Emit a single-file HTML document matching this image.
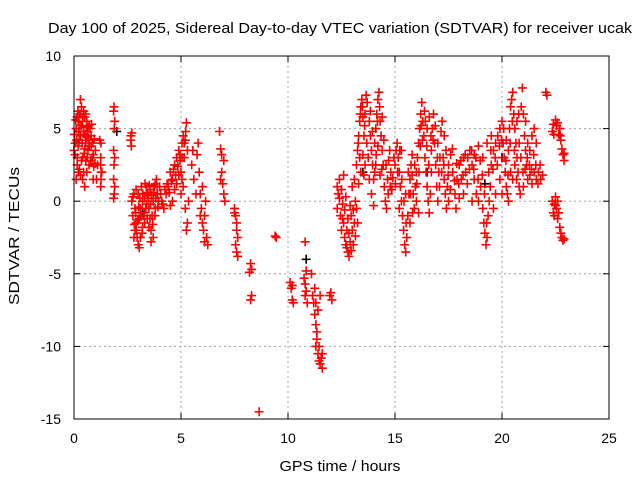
<!DOCTYPE html>
<html><head><meta charset="utf-8"><style>
html,body{margin:0;padding:0;background:#fff}
svg{display:block;font-family:"Liberation Sans",sans-serif}
</style></head><body>
<svg id="chart" width="640" height="480" viewBox="0 0 640 480">
<text x="340" y="33" font-size="15" text-anchor="middle" textLength="584" lengthAdjust="spacingAndGlyphs">Day 100 of 2025, Sidereal Day-to-day VTEC variation (SDTVAR) for receiver ucak</text>
<text transform="translate(19,236) rotate(-90)" font-size="15" text-anchor="middle" textLength="138" lengthAdjust="spacingAndGlyphs">SDTVAR / TECUs</text>
<text x="340" y="471" font-size="15" text-anchor="middle" textLength="121" lengthAdjust="spacingAndGlyphs">GPS time / hours</text>
<g id="grid"></g>
<g id="ticks"></g>
<g id="marks"></g>
<rect x="74" y="56" width="535" height="363" fill="none" stroke="#000" stroke-width="1"/>
</svg>
<script>
const xTicks=[0,5,10,15,20,25];
const yTicks=[10,5,0,-5,-10,-15];
const observations=[
[0,3.5],[0.05,4],[0.1,5],[0.15,3],[0.2,2],[0.2,5.5],[0.25,6],[0.3,4.5],[0.3,7],[0.35,6.5],[0.4,5.5],[0.4,3],[0.45,2],[0.5,1],[0.5,5.8],[0.55,4],[0.6,5.5],[0.65,3.5],[0.7,2.5],[0.75,5],[0.8,4.5],[0.85,3],[0.9,1.5],[0.95,4.3],[1.0,3.5],[1.05,1.5],[1.1,2.5],[1.2,4.2],[1.25,3],[1.3,2],[0.1,1.5],[0.15,2.5],[0.05,3.2],[0.2,3.8],[0.3,1.8],[0.35,2.8],[0.45,4.8],[0.55,6],[0.6,2],[0.65,4.8],[0.7,5.2],[0.8,3.8],[0.9,3.2],[0.25,4.2],[0.4,1.5],[0.45,6.2],[0.35,5.2],[0.5,3.6],[0.6,4.4],[0.15,5.8],[0.25,2.2],[0.55,2.8],
[0.02,4.6],[0.08,5.6],[0.12,4.2],[0.18,6.2],[0.22,4.8],[0.28,5.2],[0.32,6],[0.38,4],[0.42,5.8],[0.48,3.3],[0.52,4.6],[0.58,5.1],[0.62,3],[0.68,4.2],[0.72,3.8],[0.78,2.8],[0.82,5.3],[0.88,4],[0.92,2.4],[0.98,2.6],
[1.26,4],[1.25,2.5],[1.27,2],[1.26,1.5],[1.25,1],
[1.87,6.5],[1.85,6.2],[1.9,5.5],[1.88,5],[1.85,3.5],[1.9,3],[1.87,2.5],[1.85,1.5],[1.9,1],[1.88,0.5],[1.85,0.2],
[2.66,4.5],[2.7,4.7],[2.65,4.2],[2.68,3.8],
[2.7,0],[2.75,-1],[2.8,0.5],[2.85,-2],[2.9,-1.5],[2.95,-2.5],[3.0,-3],[3.05,-3.2],[3.1,-2.5],[3.0,0.5],[3.1,-0.5],[3.2,0],[3.25,-1],[3.3,-1.5],[3.35,-0.5],[3.4,1],[3.45,0.5],[3.5,-0.5],[3.55,-1.2],[3.6,-2],[3.65,-1],[3.7,0],[3.75,1],[3.8,1.2],[3.85,1.5],[3.9,0.5],[3.95,0],[2.8,-2.5],[2.9,0.8],[3.15,1],[3.3,0.2],[3.5,-1.8],[3.7,-2.5],[3.6,-2.8],[2.85,-0.5],[3.05,-1.2],[3.2,-1.8],[3.4,-0.2],[3.55,0.8],[3.8,-0.5],
[2.75,0.3],[2.82,-1.6],[2.88,-0.8],[2.92,-2],[2.98,-1.3],[3.02,-0.4],[3.08,0.2],[3.12,-1],[3.18,-2.2],[3.22,0.5],[3.28,-0.8],[3.32,1.2],[3.38,0.6],[3.42,-1.2],[3.48,0.2],[3.52,1.1],[3.58,-0.2],[3.62,0.4],[3.68,-1.6],[3.72,0.6],[3.78,-1],[3.82,0.2],[3.88,1],[3.92,-0.4],
[4.0,1],[4.1,0],[4.2,-0.5],[4.3,0.5],[4.4,1],[4.5,2],[4.6,1.5],[4.7,2.5],[4.8,3],[4.9,3.5],[5.0,2],[5.05,4],[5.1,4.5],[5.2,4.2],[5.25,5.4],[4.6,0],[4.7,0.8],[4.9,1.8],[5.0,0.5],[5.1,1],[5.2,-0.5],[5.3,-1.5],[5.25,-2],[5.35,0],[4.5,-0.3],[4.8,1.2],[5.15,3],[5.3,3.5],[4.95,2.8],[5.05,1.5],
[4.05,0.5],[4.15,-0.2],[4.25,0.8],[4.35,1.2],[4.45,0.6],[4.55,1.4],[4.65,2.2],[4.75,1.8],[4.85,2.4],[4.95,3.2],[5.05,3],[5.15,4],[5.22,4.8],
[5.5,2.5],[5.55,3.5],[5.6,1.5],[5.7,0.5],[5.75,3.2],[5.8,4],[5.85,2],[5.9,0.5],[5.95,-0.5],[6.0,-1.5],[6.05,-2],[6.1,-1],[6.15,0],[6.2,-2.5],[6.25,-3],[6.0,1],[5.9,-1],[6.1,-2.8],
[6.8,4.8],[6.85,3.6],[6.9,3.2],[6.9,2],[6.95,1.2],[7.0,2.8],[7.0,0.5],[7.05,0],[6.85,1.5],
[7.5,-0.5],[7.55,-1],[7.6,-1.5],[7.6,-2],[7.65,-2.5],[7.55,-3],[7.6,-3.5],[7.65,-3.8],[7.5,-0.8],
[8.25,-4.3],[8.3,-4.7],[8.2,-4.9],[8.3,-6.5],[8.25,-6.8],[8.65,-14.5],[9.4,-2.4],[9.45,-2.5],
[10.1,-5.6],[10.15,-6.0],[10.2,-6.8],[10.2,-5.8],[10.25,-7.0],
[10.8,-2.8],[10.85,-4.8],[10.75,-5.3],[10.8,-5.7],[10.85,-6.2],[10.9,-7],[10.8,-6.5],
[11.1,-5],[11.15,-6.5],[11.2,-7],[11.25,-7.8],[11.3,-8.5],[11.35,-9],[11.3,-10],[11.4,-10.5],[11.45,-11],[11.5,-11.2],[11.55,-10.8],[11.6,-11.5],[11.5,-6.5],[11.4,-7.5],[11.35,-9.5],[11.45,-10],[11.6,-10.5],[11.3,-7],[11.25,-6],
[12.0,-6.3],[12.05,-6.8],[11.95,-6.5],
[12.3,1],[12.35,0.5],[12.3,-0.5],[12.4,1.5],[12.45,-1],[12.5,-2],[12.55,-0.2],[12.6,-1.5],[12.65,-2.5],[12.7,-3],[12.75,-2],[12.8,-3.5],[12.85,-3.8],[12.9,-2.8],[12.95,-1],[13.0,-2],[13.05,-3],[13.1,-1.5],[13.15,0],[12.7,0.3],[12.6,1.8],[12.5,0.8],[12.8,-1.2],[12.9,-0.3],[13.0,1],[13.1,1.5],[13.2,-0.5],[13.2,2.5],[13.25,3.5],[13.3,4.5],[13.35,5.5],[13.4,6.5],[13.45,7],[13.5,5.8],[13.55,4.5],[13.6,6],[13.65,7.3],[13.7,6.8],[13.35,3],[13.4,2],[13.3,1.2],[13.5,3.2],[13.6,2.5],[13.55,1.8],
[12.4,0.2],[12.55,-1.2],[12.65,-0.6],[12.75,-3.2],[12.85,-2.2],[12.95,-3.4],[13.05,-0.6],[13.15,-2.4],[13.25,-1.5],[13.28,4],[13.38,6],[13.48,6.5],[13.58,5.2],[13.68,4],[13.75,3],[13.8,1.5],
[13.8,5.5],[13.85,4.5],[13.9,3.5],[13.95,2.5],[14.0,1.5],[14.05,4],[14.1,5],[14.15,6],[14.2,7],[14.25,7.5],[14.3,5.5],[14.35,4.5],[14.4,3.5],[14.45,2.5],[14.5,1],[14.55,0],[14.6,-0.5],[14.65,1.5],[14.7,2.8],[14.75,3.5],[14.8,2],[14.85,0.8],[14.1,2.5],[14.2,3.8],[14.3,1.8],[14.4,5.8],[14.0,-0.3],[13.9,0.5],
[13.85,6.2],[13.95,4.8],[14.05,2],[14.12,3.2],[14.18,5.5],[14.28,6.5],[14.38,2.2],[14.48,4.2],[14.58,2.5],[14.68,0.5],[14.78,1],[14.9,1.6],[14.95,3],
[15.0,2.5],[15.05,3.5],[15.1,4],[15.15,3],[15.2,2],[15.25,1],[15.3,0],[15.35,-1],[15.4,-2],[15.45,-3],[15.5,-3.5],[15.55,-2.5],[15.6,-1],[15.65,0.5],[15.7,1.5],[15.75,2.5],[15.8,1.8],[15.85,0.5],[15.9,-0.5],[15.95,1],[16.0,2],[16.05,3],[16.1,4],[16.15,5],[16.2,6],[16.25,6.8],[16.3,5.5],[15.2,-0.5],[15.3,3.5],[15.5,0.5],[15.7,-1.5],[15.8,3.2],[16.0,0],[16.1,-0.8],
[15.02,1.2],[15.12,2],[15.22,3.5],[15.32,1.5],[15.42,0],[15.52,-1.5],[15.62,2],[15.72,0.5],[15.82,-0.8],[15.92,2.5],[16.02,1.2],[16.12,2],[16.18,3.8],[16.22,5.2],[16.28,4.2],
[16.35,4.5],[16.4,3],[16.45,2],[16.5,1],[16.55,0],[16.6,-0.8],[16.65,0.5],[16.7,2],[16.75,5],[16.8,6],[16.85,4],[16.9,2.5],[16.95,1],[17.0,0],[17.05,2],[17.1,3],[17.15,4.8],[17.2,5.5],[17.25,3],[17.3,1.5],[17.35,0.5],[17.4,-0.5],[17.45,1],[17.5,2.5],[17.6,3.2],[17.7,2],[17.8,0.5],[17.85,-0.5],[17.9,1.5],[18.0,2.5],[18.1,1.5],[18.2,0.5],[18.3,2],[18.4,3],[18.5,3.5],[16.5,5],[16.6,5.8],[16.7,3.5],[17.0,4],[17.3,4.5],[17.5,0],[18.0,0.2],[18.2,3],
[16.38,6.2],[16.42,5.5],[16.48,3.8],[16.58,2.5],[16.68,4.5],[16.78,4.2],[16.88,5.2],[16.98,3],[17.08,1],[17.18,2],[17.28,2.5],[17.38,3.5],[17.48,1.8],[17.58,0.8],[17.68,3.6],[17.78,1.4],[17.88,2.6],[17.98,1.2],[18.08,2.8],[18.18,1.8],[18.28,3.2],[18.38,1.2],[18.48,2.2],
[18.6,2.5],[18.7,1.5],[18.8,0.5],[18.9,0],[19.0,1],[19.1,-0.5],[19.15,-1.5],[19.2,-2.2],[19.25,-3],[19.3,-2.5],[19.35,-1],[19.4,0],[19.45,1],[19.5,2.5],[19.6,3.5],[19.7,4],[18.7,3.2],[18.9,3.8],[19.1,3],[19.3,4],[19.5,4.5],[19.6,-0.5],[19.7,0.5],[18.6,0],
[18.58,3.5],[18.68,2.2],[18.78,3],[18.88,1.5],[18.98,2.8],[19.08,1.8],[19.18,0.5],[19.28,-1.5],[19.38,2],[19.48,3.5],[19.58,2.2],[19.68,3],
[19.8,4.5],[19.9,5],[20.0,5.5],[20.05,4],[20.1,3],[20.15,2],[20.2,1],[20.25,0.5],[20.3,3.5],[20.35,5],[20.4,6.5],[20.45,7],[20.5,7.5],[20.55,6],[20.6,5],[20.65,4],[20.7,3],[20.75,2],[20.8,1],[20.85,0.5],[20.9,6.5],[20.95,7.8],[21.0,6],[21.05,4.5],[21.1,3.5],[21.15,2.5],[21.2,1.5],[21.3,1.8],[21.4,1.2],[21.5,2],[21.6,1.5],[19.9,1.5],[20.0,0.5],[20.2,4.2],[20.5,1.5],[20.6,2.5],[20.7,5.5],[20.8,4],[21.0,1],[21.1,5.5],[21.2,4],[21.3,3.5],[21.4,4.5],[21.5,5],[21.6,4],[21.7,2],[21.8,1.5],[21.9,1.8],[20.3,0],[20.4,2],
[19.78,2.5],[19.88,3.8],[19.98,4.2],[20.08,5],[20.18,2.8],[20.28,1.8],[20.38,4],[20.48,5.5],[20.58,3.5],[20.68,1.5],[20.78,6],[20.88,3],[20.98,2],[21.08,2.2],[21.18,3],[21.28,2.5],[21.38,2.2],[21.48,3.2],[21.58,2.5],[21.68,1.2],[21.78,2.5],
[22.05,7.5],[22.1,7.3],[22.35,4.8],[22.4,5.3],[22.5,5.6],[22.6,5.4],[22.7,5],[22.75,4.2],[22.8,3.6],[22.85,3.2],[22.9,2.8],[22.35,0],[22.4,-0.8],[22.45,-1],[22.5,-0.3],[22.55,-0.5],[22.6,-1.2],[22.7,-1.8],[22.8,-2.5],[22.85,-2.7],[22.5,0.3],[22.6,0],
[22.42,4.6],[22.55,5.2],[22.65,4.6],[22.72,4.5],[22.45,-0.2],[22.65,-0.8],[22.75,-2.2],[22.9,3.3],[22.9,-2.6]
];
const blackObs=[[0.2,4],[2.0,4.8],[10.85,-4],[13.5,2],[20.0,3],[16.5,2],[3.2,-0.8],[19.2,1.2]];

const NS='http://www.w3.org/2000/svg';
const L=74,R=609,T=56,B=419,XMIN=0,XMAX=25,YMIN=-15,YMAX=10;
function xs(t){return L+(t-XMIN)/(XMAX-XMIN)*(R-L);}
function ys(v){return B-(v-YMIN)/(YMAX-YMIN)*(B-T);}
function mk(tag,attrs,parent){const e=document.createElementNS(NS,tag);for(const k in attrs)e.setAttribute(k,attrs[k]);parent.appendChild(e);return e;}
const grid=document.getElementById('grid'),ticks=document.getElementById('ticks'),marks=document.getElementById('marks');
xTicks.forEach(t=>{
  const x=xs(t);
  if(t>XMIN&&t<XMAX){const g=mk('line',{x1:x,y1:T,x2:x,y2:B,stroke:'#a0a0a0','stroke-dasharray':'2,3'},grid);
  
  }
  const a=mk('line',{x1:x,y1:B,x2:x,y2:B-6,stroke:'#000'},ticks);
  
  
  const b=mk('line',{x1:x,y1:T,x2:x,y2:T+6,stroke:'#000'},ticks);
  
  
  const lb=mk('text',{x:x,y:443,'font-size':14,'text-anchor':'middle'},ticks);lb.textContent=t;
  
  
});
yTicks.forEach(v=>{
  const y=ys(v);
  if(v>YMIN&&v<YMAX){const g=mk('line',{x1:L,y1:y,x2:R,y2:y,stroke:'#a0a0a0','stroke-dasharray':'2,3'},grid);
  
  }
  const a=mk('line',{x1:L,y1:y,x2:L+6,y2:y,stroke:'#000'},ticks);
  
  
  const b=mk('line',{x1:R,y1:y,x2:R-6,y2:y,stroke:'#000'},ticks);
  
  
  const lb=mk('text',{x:61,y:y+5,'font-size':14,'text-anchor':'end'},ticks);lb.textContent=v;
  
  
});
function plus(t,v,col){
  const x=xs(t),y=ys(v);
  const p=mk('path',{d:`M${x-4.5},${y}H${x+4.5}M${x},${y-4.5}V${y+4.5}`,stroke:col,'stroke-width':1.6,fill:'none'},marks);
  
  
}
blackObs.forEach(o=>plus(o[0],o[1],'#000'));
observations.forEach(o=>plus(o[0],o[1],'#f00'));
</script>
</body></html>
